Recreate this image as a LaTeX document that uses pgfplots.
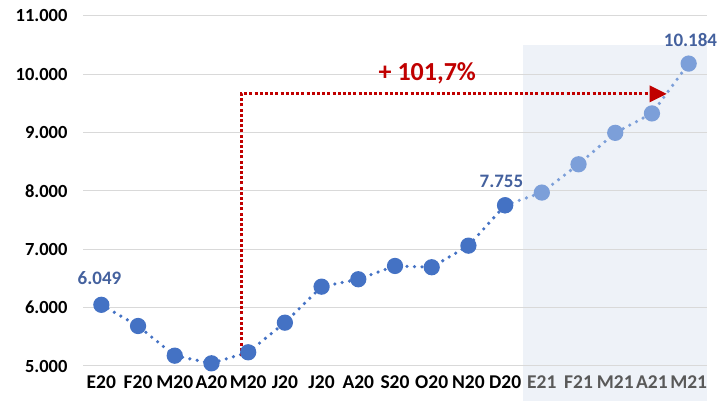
\documentclass[border=0pt]{standalone}
\usepackage{pgfplots}
\pgfplotsset{compat=1.18}
\usepackage{fontspec}
\setmainfont{Carlito}
\usetikzlibrary{arrows.meta}
\definecolor{mblue}{HTML}{4472C4}
\definecolor{lblue}{HTML}{7C9FD9}
\definecolor{lab}{HTML}{44619E}
\definecolor{shadec}{HTML}{EEF2F8}
\definecolor{gridc}{HTML}{D9D9D9}
\definecolor{dred}{HTML}{C00000}
\definecolor{greyt}{HTML}{595959}
\begin{document}
\begin{tikzpicture}
\begin{axis}[
  set layers,
  scale only axis,
  width=624pt, height=350pt,
  xmin=-0.5, xmax=16.5,
  ymin=5000, ymax=11000,
  clip=false,
  axis line style={draw=none},
  major tick length=0pt,
  ytick={5000,6000,7000,8000,9000,10000,11000},
  ymajorgrids,
  grid style={gridc, line width=1pt},
  xtick={0,...,16},
  xticklabels={E20,F20,M20,A20,M20,J20,J20,A20,S20,O20,N20,D20,
    \textcolor{greyt}{E21},\textcolor{greyt}{F21},\textcolor{greyt}{M21},\textcolor{greyt}{A21},\textcolor{greyt}{M21}},
  yticklabel style={font=\fontsize{18.5}{20}\selectfont\bfseries, xshift=-12pt},
  /pgf/number format/.cd, fixed, use period, 1000 sep={.}, assume math mode=true, /pgfplots/.cd,
  xticklabel style={font=\fontsize{19.5}{21}\selectfont\bfseries, yshift=-6pt},
  scaled y ticks=false,
]
\begin{pgfonlayer}{axis background}
\fill[shadec] (axis cs:11.5,10500) rectangle (axis cs:16.5,4400);
\end{pgfonlayer}
% light (forecast) part
\addplot[lblue, line width=3.6pt, line cap=round, dash pattern=on 0pt off 7.5pt,
  mark=*, mark size=6.3pt, mark options={solid, fill=lblue, draw=none}]
  coordinates {(11,7755)(12,7973)(13,8458)(14,8997)(15,9330)(16,10184)};
% actual part
\addplot[mblue, line width=3.6pt, line cap=round, dash pattern=on 0pt off 7.5pt,
  mark=*, mark size=6.3pt, mark options={solid, fill=mblue, draw=none}]
  coordinates {(0,6049)(1,5686)(2,5177)(3,5046)(4,5235)(5,5743)(6,6360)(7,6487)(8,6715)(9,6693)(10,7063)(11,7755)};
% red annotation
\addplot[dred, line width=3pt, dash pattern=on 3pt off 2.2pt, mark=none,
  -{Triangle[length=17pt,width=17pt,fill=dred,line width=0pt,sep=0pt]}]
  coordinates {(3.81,5170)(3.81,9665)(15.4,9665)};
\node[font=\fontsize{26}{28}\selectfont\bfseries, text=dred] at (axis cs:8.88,10020) {+ 101,7\%};
\node[font=\fontsize{19}{21}\selectfont\bfseries, text=lab, above] at (axis cs:-0.05,6330) {6.049};
\node[font=\fontsize{19}{21}\selectfont\bfseries, text=lab, above] at (axis cs:10.9,8000) {7.755};
\node[font=\fontsize{19}{21}\selectfont\bfseries, text=lab, above] at (axis cs:16.05,10410) {10.184};
\end{axis}
\pgfresetboundingbox
\path (-83pt,-35pt) rectangle (639pt,366pt);
\end{tikzpicture}
\end{document}
